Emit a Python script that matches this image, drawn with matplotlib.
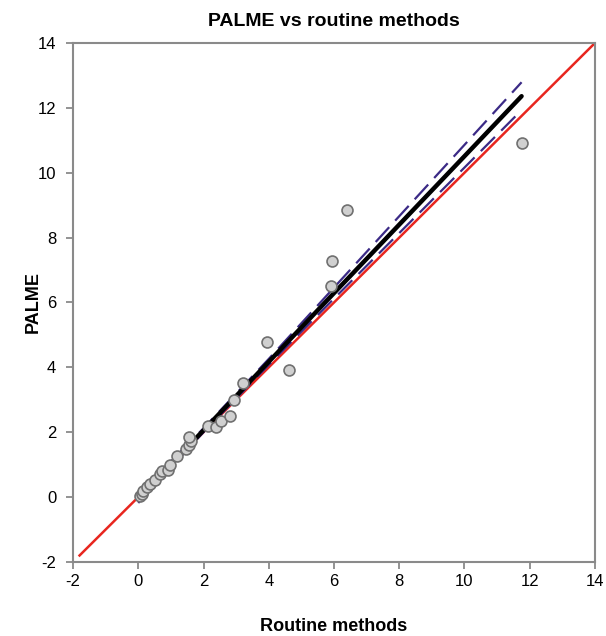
import matplotlib.pyplot as plt

plt.rcParams['font.family'] = ['Liberation Sans', 'DejaVu Sans']
plt.rcParams['axes.unicode_minus'] = False

routine = [0.06, 0.11, 0.16, 0.26, 0.36, 0.52, 0.67, 0.72, 0.92, 0.98, 1.18,
           1.47, 1.54, 1.61, 1.57, 2.15, 2.39, 2.53, 2.8, 2.94, 3.2, 3.96,
           4.63, 5.9, 5.95, 6.4, 11.77]
palme = [0.02, 0.1, 0.2, 0.31, 0.41, 0.53, 0.72, 0.8, 0.84, 0.98, 1.28,
         1.49, 1.61, 1.73, 1.85, 2.18, 2.16, 2.34, 2.49, 3.0, 3.52, 4.78,
         3.93, 6.5, 7.28, 8.85, 10.91]

# fitted line and its confidence band, read at a few x positions
fit_x = [0, 2, 4, 6, 8, 10, 11.75]
fit_y = [-0.05, 2.06, 4.17, 6.29, 8.40, 10.51, 12.36]
band_hi = [0.08, 2.12, 4.26, 6.46, 8.66, 10.86, 12.79]
band_lo = [-0.18, 2.00, 4.08, 6.12, 8.14, 10.16, 11.93]

identity = [-1.8, 14]

fig = plt.figure(figsize=(6.06, 6.36), dpi=100)
ax = fig.add_axes([0.1205, 0.1164, 0.8613, 0.816])

ax.plot(identity, identity, color='#e8261f', lw=1.8, zorder=2)
ax.plot(fit_x, band_hi, color='#3b2a86', lw=1.6, dashes=(9, 4), zorder=3)
ax.plot(fit_x, band_lo, color='#3b2a86', lw=1.6, dashes=(9, 4), zorder=3)
ax.plot(fit_x, fit_y, color='black', lw=3.2, zorder=4, solid_capstyle='round')
ax.scatter(routine, palme, s=62, facecolor='#d0d0d0', edgecolor='#707070',
           linewidths=1.2, zorder=5)

ax.set_xlim(-2, 14)
ax.set_ylim(-2, 14)
ax.set_xticks(range(-2, 15, 2))
ax.set_yticks(range(-2, 15, 2))
for s in ax.spines.values():
    s.set_color('#8a8a8a')
    s.set_linewidth(1.5)
ax.tick_params(direction='out', length=5, width=1.3, color='#8a8a8a',
               labelsize=12, pad=4)
ax.tick_params(axis='y', pad=7)

ax.set_title('PALME vs routine methods', fontsize=14, fontweight='bold', pad=12)
ax.set_xlabel('Routine methods', fontsize=13, fontweight='bold')
ax.set_ylabel('PALME', fontsize=13, fontweight='bold')
ax.xaxis.set_label_coords(0.5, -0.108)
ax.yaxis.set_label_coords(-0.06, 0.5)

fig.savefig('out.png', dpi=100)
